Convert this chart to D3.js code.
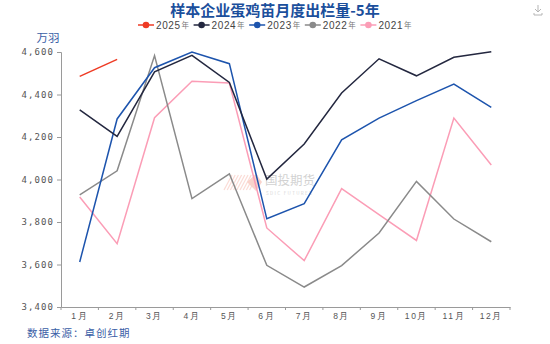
<!DOCTYPE html>
<html>
<head>
<meta charset="utf-8">
<script src="https://cdn.jsdelivr.net/npm/d3@7"></script>
<style>
  html, body { margin: 0; padding: 0; background: #fff; }
  svg { display: block; font-family: "Noto Sans CJK SC", "Noto Sans", sans-serif; }
</style>
</head>
<body>
<svg id="chart" width="550" height="344"></svg>
<script>
// Monthly chick output of sampled layer-breeding enterprises (万羽)
const months = ["1月", "2月", "3月", "4月", "5月", "6月", "7月", "8月", "9月", "10月", "11月", "12月"];
const yTicks = [3400, 3600, 3800, 4000, 4200, 4400, 4600];

const values2025 = [4485, 4565];
const values2024 = [4328, 4203, 4507, 4584, 4457, 4002, 4167, 4407, 4568, 4488, 4575, 4601];
const values2023 = [3612, 4285, 4526, 4600, 4545, 3815, 3886, 4187, 4289, 4371, 4449, 4339];
const values2022 = [3928, 4041, 4583, 3910, 4027, 3596, 3494, 3595, 3748, 3991, 3814, 3707];
const values2021 = [3918, 3698, 4291, 4462, 4454, 3772, 3618, 3957, 3835, 3713, 4289, 4068];

const seriesNames = ["2025", "2024", "2023", "2022", "2021"];
const seriesColors = ["#ee3b24", "#23273f", "#1d54ad", "#8a8a8a", "#fb9db6"];
const seriesValues = [values2025, values2024, values2023, values2022, values2021];

const series = seriesNames.map((name, i) => ({ name, color: seriesColors[i], values: seriesValues[i] }));

const svg = d3.select("#chart");
const margin = { left: 61, top: 52 };

const x = d3.scaleBand().domain(months).range([margin.left, 510]).padding(0);
const y = d3.scaleLinear().domain([3400, 4600]).range([307, margin.top]);

// Title
svg.append("text")
  .attr("x", 275).attr("y", 15.5)
  .attr("text-anchor", "middle")
  .attr("font-size", 15).attr("font-weight", "bold")
  .attr("fill", "#1b4f9c")
  .text("样本企业蛋鸡苗月度出栏量-5年");

// Download icon, top right
const icon = svg.append("g").attr("transform", "translate(533,4)")
  .attr("fill", "none").attr("stroke", "#b5b5b5").attr("stroke-width", 1);
icon.append("path").attr("d", "M5,1 V8 M2,5 L5,8 L8,5 M1,9 V11 H9 V9");

// Legend
const legend = svg.append("g").attr("transform", "translate(0,25)");
const legendStart = 138, legendStep = 55.6;
series.forEach((s, i) => {
  const g = legend.append("g").attr("transform", `translate(${legendStart + i * legendStep},0)`);
  g.append("line").attr("x1", 0).attr("x2", 16).attr("y1", 0).attr("y2", 0)
    .attr("stroke", s.color).attr("stroke-width", 1.5);
  g.append("circle").attr("cx", 8).attr("cy", 0).attr("r", 3.3).attr("fill", s.color);
  g.append("text").attr("x", 18).attr("y", 3.6)
    .attr("font-size", 10).attr("fill", "#444").attr("letter-spacing", 0.6)
    .attr("font-family", "'Liberation Sans', Arial, sans-serif")
    .text(s.name);
  g.append("text").attr("x", 43.5).attr("y", 3.3)
    .attr("font-size", 7.5).attr("fill", "#777")
    .text("年");
});

// Unit label
svg.append("text")
  .attr("x", 48).attr("y", 42)
  .attr("text-anchor", "middle")
  .attr("font-size", 11.5).attr("fill", "#3a5ea6")
  .text("万羽");

// Watermark
const wm = svg.append("g").attr("opacity", 0.4);
const stripes = wm.append("g").attr("stroke", "#f6a89a").attr("stroke-width", 1.2);
for (let k = 0; k < 9; k++) {
  const x0 = 224 + k * 3.2;
  stripes.append("line").attr("x1", x0).attr("y1", 190).attr("x2", x0 + 8).attr("y2", 175);
}
wm.append("path").attr("d", "M247,182 L256,174 L262,182 L256,191 Z").attr("fill", "#f4937f");
wm.append("text").attr("x", 265).attr("y", 185)
  .attr("font-size", 12.5).attr("fill", "#8f8f8f")
  .text("国投期货");
wm.append("text").attr("x", 266).attr("y", 195)
  .attr("font-size", 4.6).attr("fill", "#999").attr("letter-spacing", 1.3)
  .text("SDIC FUTURES");

// Y axis
const yAxis = svg.append("g").attr("transform", `translate(${margin.left},0)`)
  .call(d3.axisLeft(y).tickValues(yTicks).tickSize(4).tickPadding(3)
    .tickFormat(d3.format(",")));
yAxis.select(".domain").attr("stroke", "#9a9a9a");
yAxis.selectAll(".tick line").attr("stroke", "#9a9a9a");
yAxis.selectAll(".tick text")
  .attr("font-size", 9).attr("fill", "#555").attr("letter-spacing", 1.1)
  .attr("font-family", "'DejaVu Sans Mono', monospace");

// X axis
const xAxis = svg.append("g").attr("transform", `translate(0,${y(3400)})`)
  .call(d3.axisBottom(x).tickSize(0).tickPadding(6));
xAxis.select(".domain").attr("stroke", "#9a9a9a");
xAxis.selectAll(".tick text")
  .attr("font-size", 8.5).attr("fill", "#555").attr("letter-spacing", 1.6);
// Tick marks at band boundaries
const bounds = months.map(m => x(m)).concat([x.range()[1]]);
xAxis.selectAll(".bound").data(bounds).join("line")
  .attr("class", "bound")
  .attr("x1", d => d).attr("x2", d => d)
  .attr("y1", 0).attr("y2", 3)
  .attr("stroke", "#9a9a9a");

// Lines, drawn oldest first so newer years sit on top
const line = d3.line()
  .x((d, i) => x(months[i]) + x.bandwidth() / 2)
  .y(d => y(d));

svg.append("g").selectAll("path")
  .data(series.slice().reverse())
  .join("path")
  .attr("d", d => line(d.values))
  .attr("fill", "none")
  .attr("stroke", d => d.color)
  .attr("stroke-width", 1.5)
  .attr("stroke-linejoin", "miter");

// Source note
svg.append("text")
  .attr("x", 27).attr("y", 337)
  .attr("font-size", 10.5).attr("fill", "#3a5ea6").attr("letter-spacing", 1)
  .text("数据来源：卓创红期");
</script>
</body>
</html>
